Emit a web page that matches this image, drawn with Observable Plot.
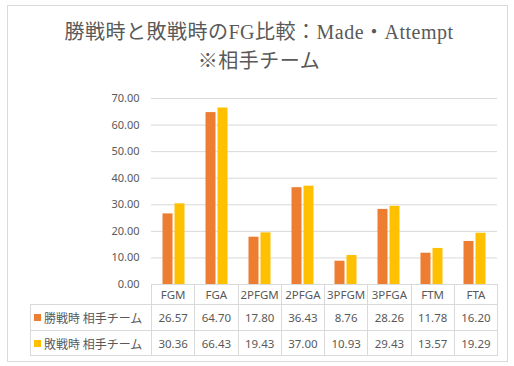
<!DOCTYPE html>
<html>
<head>
<meta charset="utf-8">
<script src="https://cdn.jsdelivr.net/npm/d3@7"></script>
<script src="https://cdn.jsdelivr.net/npm/@observablehq/plot@0.6"></script>
<style>
  html, body { margin: 0; padding: 0; background: #fff; }
  #wrap { position: relative; width: 514px; height: 366px; overflow: hidden; font-family: "Noto Sans", "Noto Sans CJK JP", sans-serif; color: #595959; }
  #frame { position: absolute; left: 7px; top: 5px; width: 501px; height: 357px; border: 1px solid #d9d9d9; box-sizing: border-box; }
  .title { position: absolute; left: 0; width: 518px; text-align: center; font-family: "Liberation Serif", "DejaVu Serif", "Noto Sans CJK JP", serif; font-size: 20px; letter-spacing: 0.5px; color: #595959; white-space: nowrap; line-height: 1; }
  #chart { position: absolute; left: 0; top: 85px; }
  #tbl { position: absolute; left: 30px; top: 284px; border-collapse: collapse; table-layout: fixed; width: 467px; font-size: 11.5px; color: #595959; }
  #tbl td { border: 1px solid #d9d9d9; padding: 0; text-align: center; white-space: nowrap; overflow: hidden; }
  #tbl td.blank { border: none; }
  #tbl td.lab { text-align: left; padding-left: 3px; font-size: 12px; font-family: "Noto Sans CJK JP", sans-serif; }
  .sw { display: inline-block; width: 7px; height: 7px; margin-right: 3px; vertical-align: 2px; }
</style>
</head>
<body>
<div id="wrap">
  <div id="frame"></div>
  <div class="title" id="t1" style="top:22px"></div>
  <div class="title" id="t2" style="top:51px"></div>
  <div id="chart"></div>
  <table id="tbl"></table>
</div>
<script>
const titleLines = ["勝戦時と敗戦時のFG比較：Made・Attempt", "※相手チーム"];
const categories = ["FGM", "FGA", "2PFGM", "2PFGA", "3PFGM", "3PFGA", "FTM", "FTA"];
const seriesNames = ["勝戦時 相手チーム", "敗戦時 相手チーム"];
const winValues = [26.57, 64.70, 17.80, 36.43, 8.76, 28.26, 11.78, 16.20];
const loseValues = [30.36, 66.43, 19.43, 37.00, 10.93, 29.43, 13.57, 19.29];
const yTicks = [0, 10, 20, 30, 40, 50, 60, 70];
const colors = ["#ED7D31", "#FFC000"];

document.getElementById("t1").textContent = titleLines[0];
document.getElementById("t2").textContent = titleLines[1];

const winData = categories.map((c, i) => ({cat: c, value: winValues[i]}));
const loseData = categories.map((c, i) => ({cat: c, value: loseValues[i]}));

const chart = Plot.plot({
  width: 514,
  height: 212,
  marginTop: 13,
  marginBottom: 13,
  marginLeft: 151,
  marginRight: 17,
  style: {fontFamily: "Noto Sans, sans-serif", fontSize: "11px", color: "#595959", background: "transparent"},
  x: {domain: categories, padding: 0, axis: null},
  y: {domain: [0, 70], ticks: yTicks, tickFormat: d3.format(".2f"), tickSize: 0, tickPadding: 12, label: null},
  marks: [
    Plot.gridY(yTicks.filter(d => d > 0), {stroke: "#d9d9d9", strokeOpacity: 1, strokeWidth: 1}),
    Plot.barY(winData, {x: "cat", y: "value", fill: colors[0], insetLeft: 10.5, insetRight: 22.5}),
    Plot.barY(loseData, {x: "cat", y: "value", fill: colors[1], insetLeft: 22.5, insetRight: 10.5})
  ]
});
document.getElementById("chart").appendChild(chart);

// data table
const tbl = document.getElementById("tbl");
const cg = document.createElement("colgroup");
const c0 = document.createElement("col"); c0.style.width = "121px"; cg.appendChild(c0);
categories.forEach(() => { const c = document.createElement("col"); c.style.width = "43.25px"; cg.appendChild(c); });
tbl.appendChild(cg);
const hr = document.createElement("tr"); hr.style.height = "20px";
const hb = document.createElement("td"); hb.className = "blank"; hr.appendChild(hb);
categories.forEach(c => { const td = document.createElement("td"); td.textContent = c; hr.appendChild(td); });
tbl.appendChild(hr);
[winValues, loseValues].forEach((vals, si) => {
  const tr = document.createElement("tr"); tr.style.height = si === 0 ? "26px" : "25px";
  const lab = document.createElement("td"); lab.className = "lab";
  const sw = document.createElement("span"); sw.className = "sw"; sw.style.background = colors[si];
  lab.appendChild(sw); lab.appendChild(document.createTextNode(seriesNames[si]));
  tr.appendChild(lab);
  vals.forEach(v => { const td = document.createElement("td"); td.textContent = d3.format(".2f")(v); tr.appendChild(td); });
  tbl.appendChild(tr);
});
</script>
</body>
</html>
